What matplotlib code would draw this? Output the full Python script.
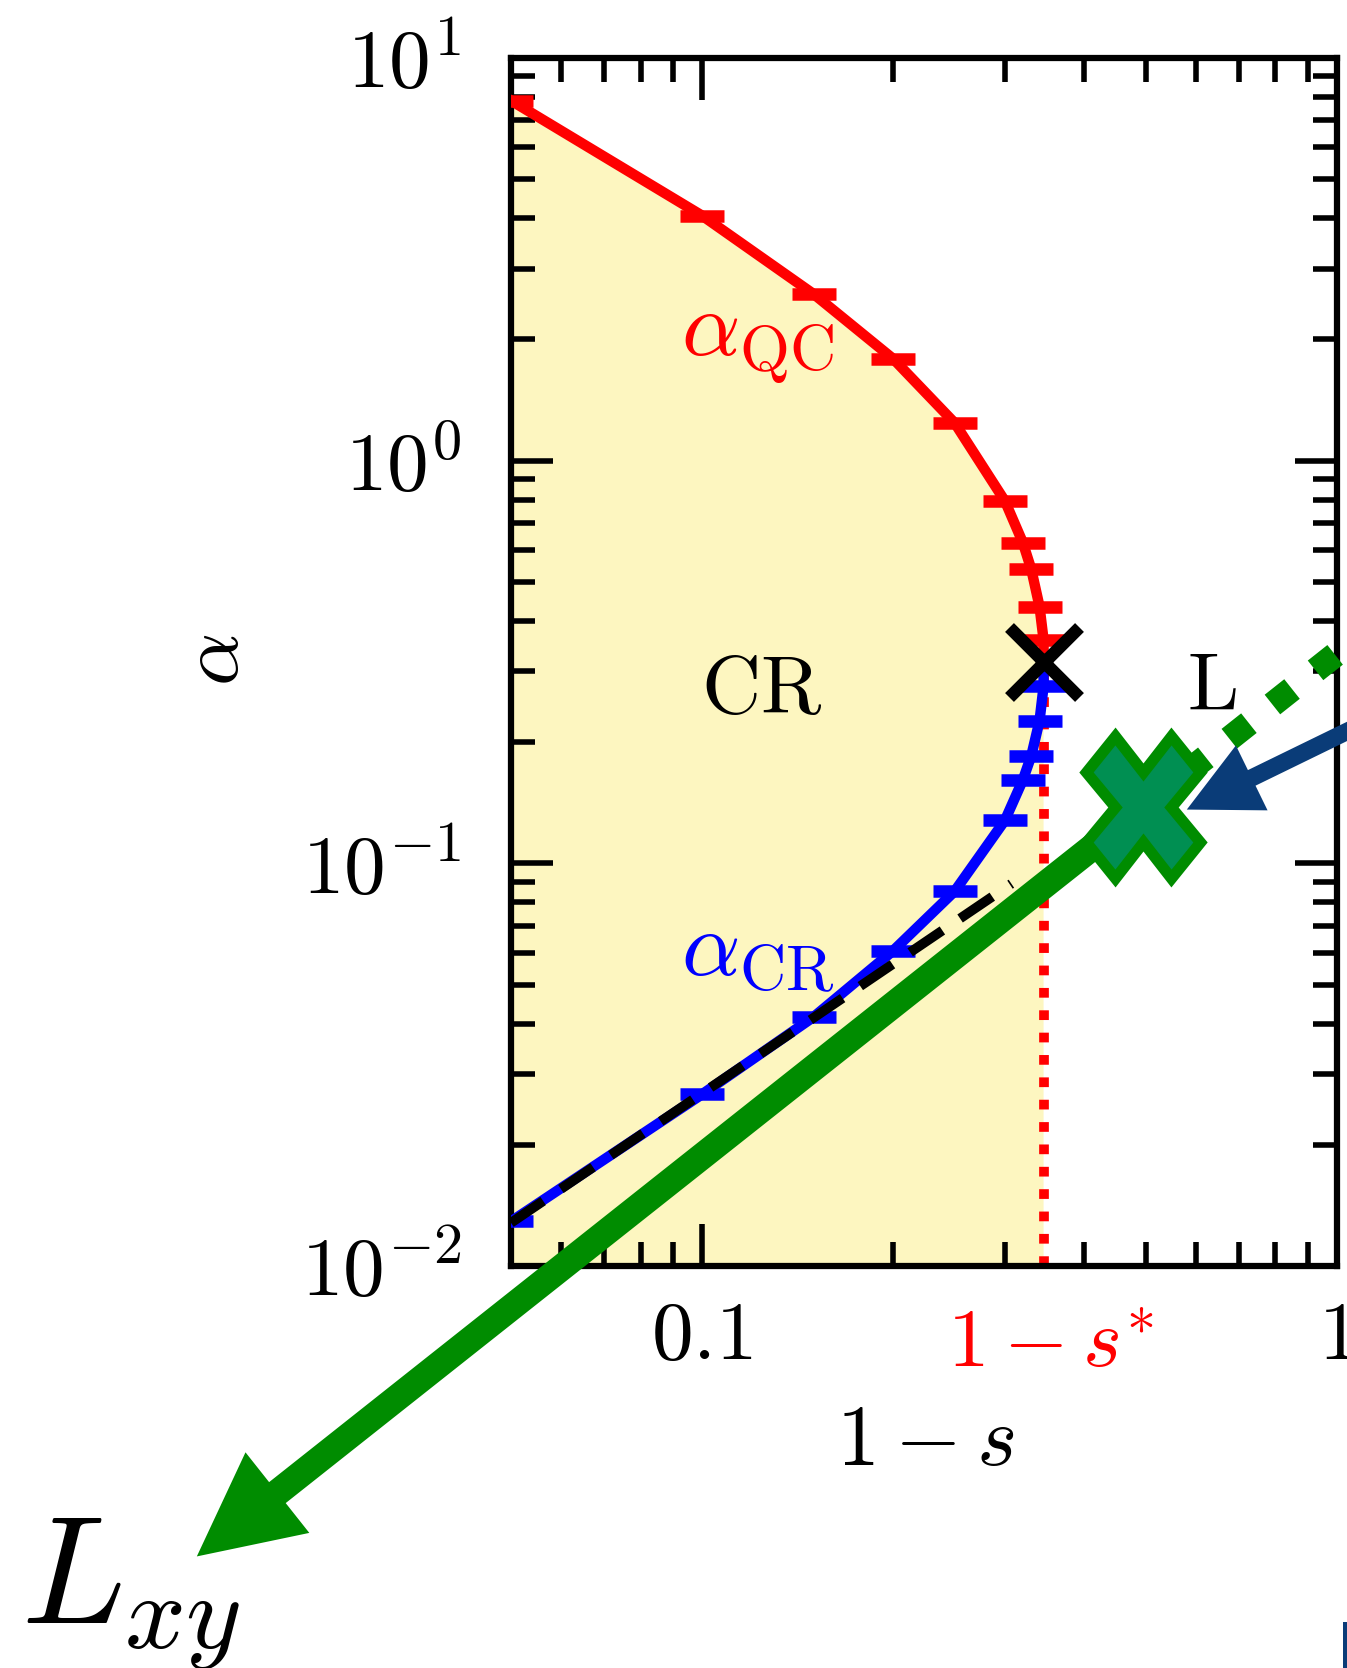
import matplotlib
matplotlib.use('Agg')
import matplotlib.pyplot as plt
from matplotlib.patches import FancyArrowPatch, Rectangle, ArrowStyle
from matplotlib.markers import MarkerStyle
from matplotlib.transforms import Affine2D

plt.rcParams['mathtext.fontset'] = 'cm'
plt.rcParams['font.family'] = 'serif'
plt.rcParams['font.serif'] = ['cmr10', 'DejaVu Serif']
plt.rcParams['axes.unicode_minus'] = True

# --- data ---
one_minus_s = [0.05, 0.1, 0.15, 0.2, 0.25, 0.3, 0.32, 0.33, 0.34, 0.345]
alpha_qc = [7.84, 4.06, 2.59, 1.79, 1.24, 0.793, 0.626, 0.537, 0.434, 0.359]
alpha_cr = [0.0129, 0.0267, 0.0416, 0.0607, 0.0853, 0.128, 0.161, 0.185, 0.226, 0.275]
s_star = 0.345          # 1 - s*
alpha_star = 0.316      # critical point
dash_x = [0.05, 0.307]
dash_y = [0.0128, 0.089]

# annotation anchors (data coords)
green_cross = (0.495, 0.138)
lxy_tip = (0.016, 0.0019)
dotted_end = (2.0, 0.79)
blue_tail = (1.49, 0.281)
blue_tip = (0.58, 0.136)

RED = '#ff0000'
BLUE = '#0000ff'
GREEN = '#008c00'
GREEN_FILL = '#008f52'
NAVY = '#0a3c78'
YELLOW = '#fdf6c0'

W, H = 1347, 1668
fig = plt.figure(figsize=(W / 100, H / 100), dpi=100)
ax = fig.add_axes([511 / W, 402 / H, 826 / W, 1208 / H])
ax.set_xscale('log')
ax.set_yscale('log')
ax.set_xlim(0.05, 1)
ax.set_ylim(0.01, 10)

# yellow CR region
fill_x = [0.05, s_star, s_star] + one_minus_s[::-1]
fill_y = [0.01, 0.01, alpha_star] + alpha_qc[::-1]
ax.fill(fill_x, fill_y, color=YELLOW, lw=0, zorder=1)

# 1 - s* vertical
ax.plot([s_star, s_star], [0.01, alpha_star], color=RED, lw=7,
        dashes=(1, 1.3), zorder=2)

# curves
ax.plot(one_minus_s + [s_star], alpha_qc + [alpha_star], color=RED, lw=7.5, zorder=4)
ax.plot(one_minus_s + [s_star], alpha_cr + [alpha_star], color=BLUE, lw=7.5, zorder=4)
ax.plot(one_minus_s, alpha_qc, ls='none', marker='_', ms=32, mew=9, color=RED, zorder=5)
ax.plot(one_minus_s, alpha_cr, ls='none', marker='_', ms=32, mew=9, color=BLUE, zorder=5)
ax.plot(dash_x, dash_y, color='k', lw=7, dashes=(4, 2.2), zorder=6)
ax.plot([s_star], [alpha_star], ls='none', marker='x', ms=50, mew=9, color='k', zorder=7)

# ticks
for side in ['left', 'right', 'top', 'bottom']:
    ax.spines[side].set_linewidth(4.5)
ax.tick_params(which='both', direction='in', top=True, right=True, width=4)
ax.tick_params(which='major', length=30, labelsize=60)
ax.tick_params(axis='x', which='major', pad=26)
ax.tick_params(axis='y', which='major', pad=36)
ax.tick_params(which='minor', length=17)
ax.set_xticks([0.1, 1])
ax.set_xticklabels([r'$0.1$', r'$1$'])
ax.set_yticks([0.01, 0.1, 1, 10])
ax.set_yticklabels([r'$10^{-2}$', r'$10^{-1}$', r'$10^{0}$', r'$10^{1}$'])
ax.text(s_star * 1.025, -0.036, r'$1-s^{*}$', color=RED, fontsize=60,
        ha='center', va='top', transform=ax.get_xaxis_transform())

ax.set_xlabel(r'$1-s$', fontsize=62)
ax.xaxis.set_label_coords(0.502, -0.147)
ax.xaxis.label.set_va('center')
ax.set_ylabel(r'$\alpha$', fontsize=60)
ax.yaxis.set_label_coords(-0.355, 0.502)
ax.yaxis.label.set_va('center')

# region labels
ax.text(0.299, 0.762, r'$\alpha_{\mathrm{QC}}$', color=RED, fontsize=66,
        ha='center', va='center', transform=ax.transAxes)
ax.text(0.299, 0.258, r'$\alpha_{\mathrm{CR}}$', color=BLUE, fontsize=66,
        ha='center', va='center', transform=ax.transAxes)
ax.text(0.303, 0.475, r'$\mathrm{CR}$', color='k', fontsize=59,
        ha='center', va='center', transform=ax.transAxes)
ax.text(0.849, 0.478, r'$\mathrm{L}$', color='k', fontsize=59,
        ha='center', va='center', transform=ax.transAxes, zorder=9)

# green L_xy axis: dotted beyond the cross, arrow towards L_xy label
ax.plot([green_cross[0], dotted_end[0]], [green_cross[1], dotted_end[1]],
        color=GREEN, lw=18, dashes=(1, 1.2), clip_on=False, zorder=10)
arr = FancyArrowPatch(green_cross, lxy_tip,
                      arrowstyle=ArrowStyle('Simple', head_length=1.0,
                                            head_width=1.0, tail_width=0.26),
                      mutation_scale=74, color=GREEN, lw=0,
                      shrinkA=0, shrinkB=0, clip_on=False, zorder=10)
ax.add_patch(arr)
cross = MarkerStyle('X', transform=Affine2D().scale(0.8, 1.0))
ax.plot([green_cross[0]], [green_cross[1]], ls='none', marker=cross, ms=102,
        mfc=GREEN_FILL, mec=GREEN, mew=8, clip_on=False, zorder=11)

# navy arrow pointing at the cross
arr2 = FancyArrowPatch(blue_tail, blue_tip,
                       arrowstyle=ArrowStyle('Simple', head_length=1.0,
                                             head_width=1.0, tail_width=0.24),
                       mutation_scale=52, color=NAVY, lw=0,
                       shrinkA=0, shrinkB=0, clip_on=False, zorder=12)
ax.add_patch(arr2)

fig.text(131 / W, 1 - 1595 / H, r'$L_{xy}$', fontsize=110, ha='center', va='center')
fig.patches.append(Rectangle((1343 / W, 0), 4 / W, 46 / H, transform=fig.transFigure,
                             color=NAVY, lw=0))

fig.savefig('out.png', dpi=100)
